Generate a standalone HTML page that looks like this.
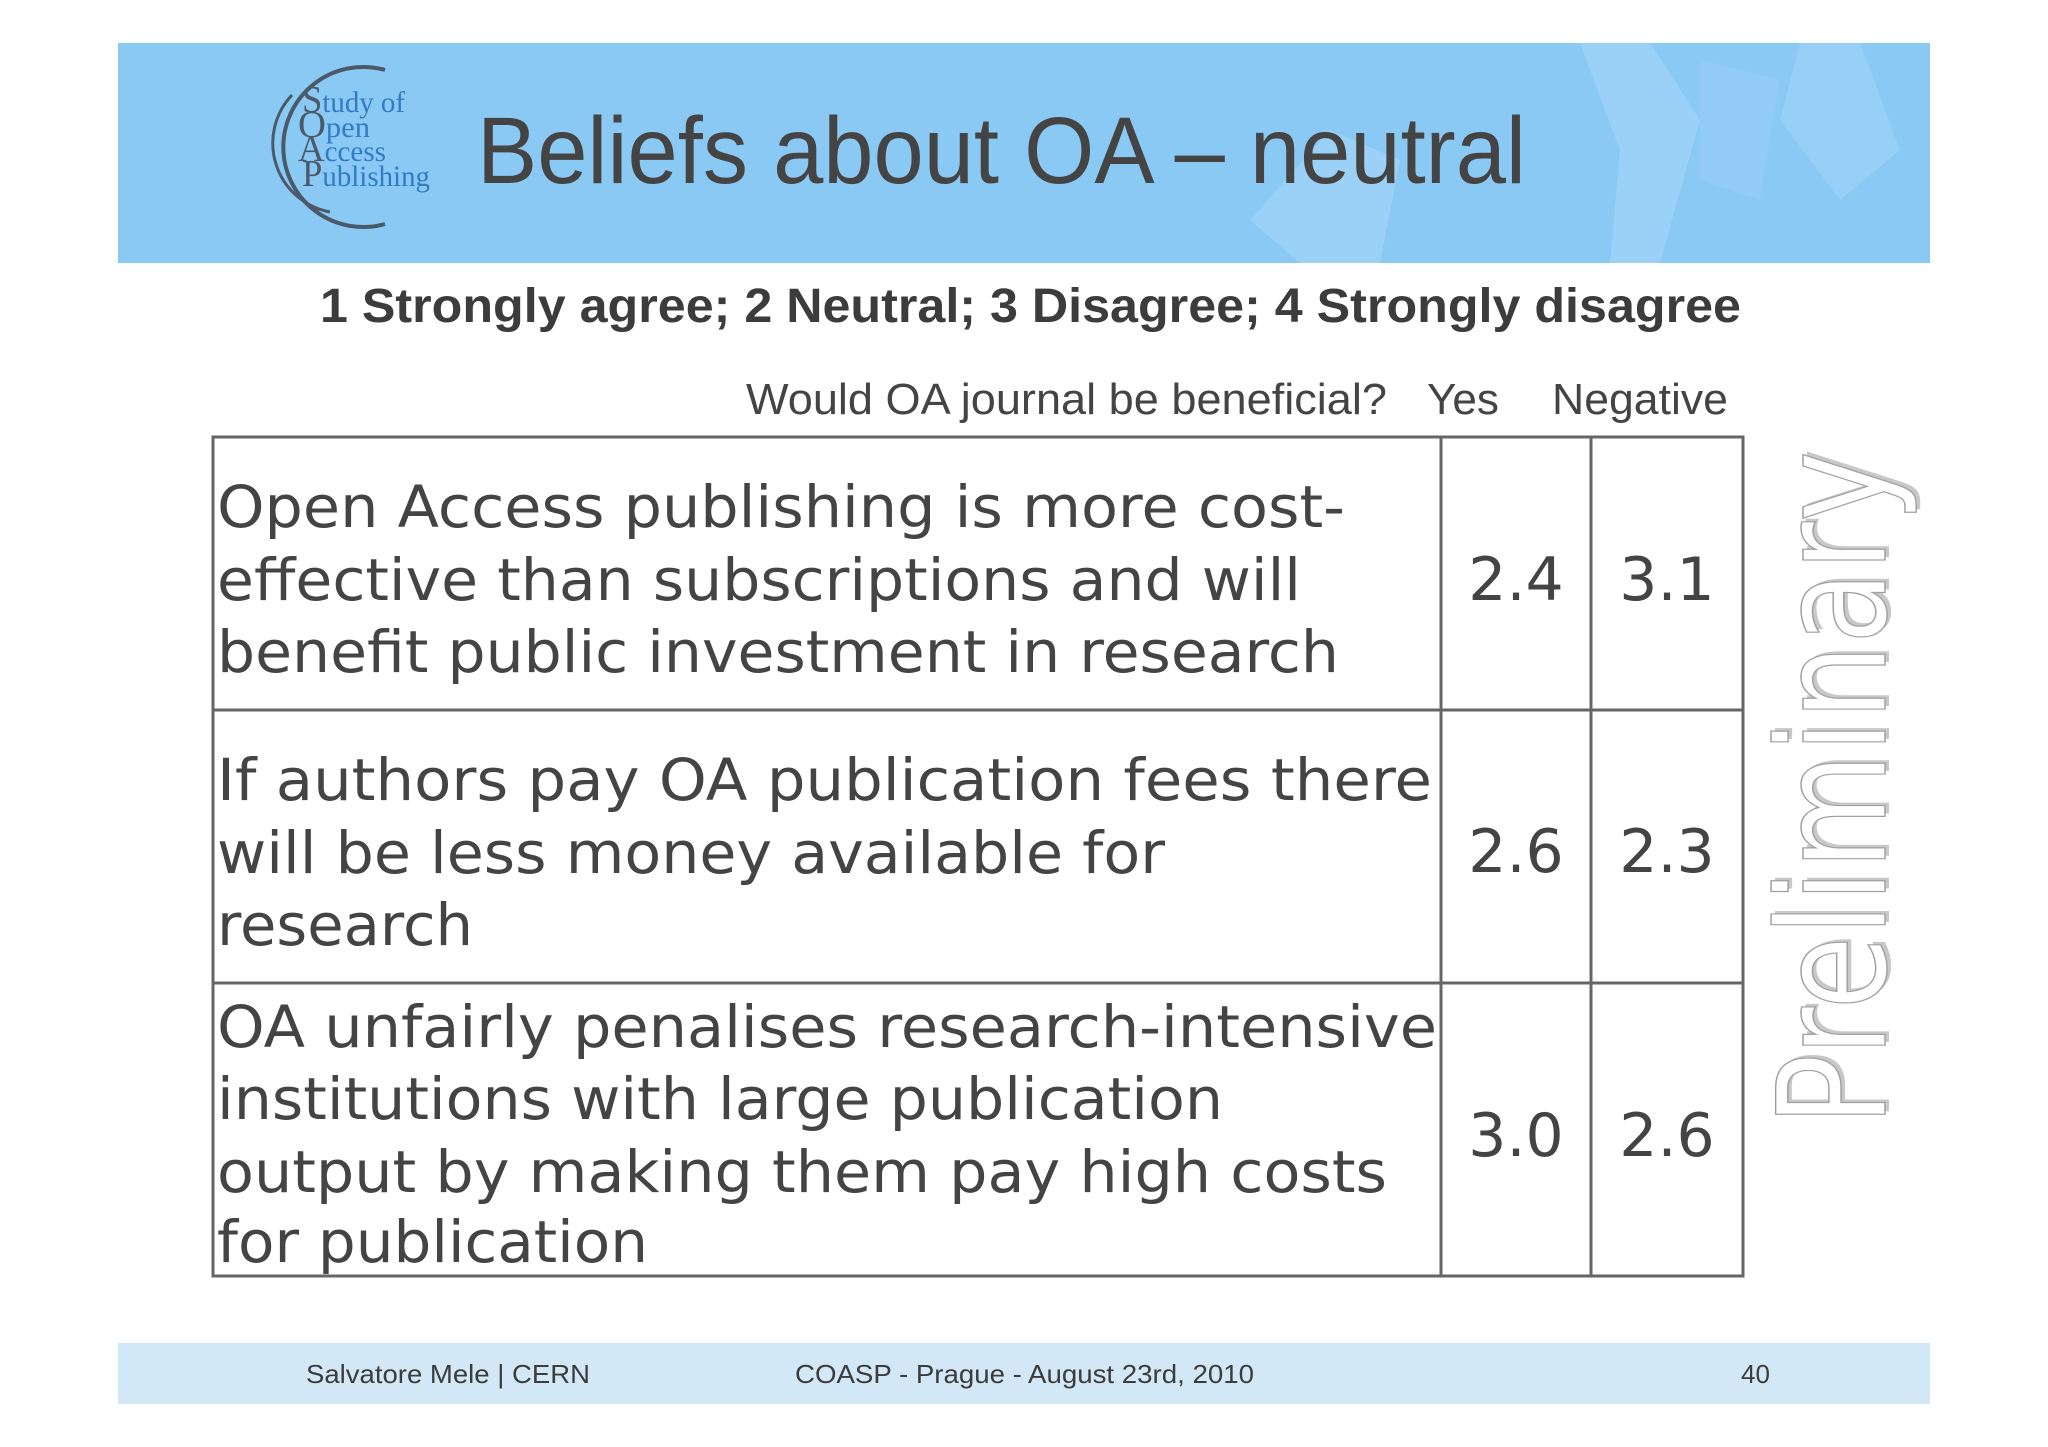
<!DOCTYPE html>
<html><head><meta charset="utf-8"><style>
html,body{margin:0;padding:0;background:#fff;}
svg{display:block;}
</style></head><body>
<svg width="2048" height="1447" viewBox="0 0 2048 1447" xmlns="http://www.w3.org/2000/svg">
  <rect width="2048" height="1447" fill="#ffffff"/>
  <!-- header -->
  <g>
    <rect x="118" y="43" width="1812" height="220" fill="#8bc9f5"/>
    <polygon points="1580,43 1650,43 1700,120 1660,263 1610,263 1620,150" fill="#a6d6f9" opacity="0.6"/>
    <polygon points="1250,220 1330,130 1400,160 1380,263 1300,263" fill="#a6d6f9" opacity="0.6"/>
    <polygon points="1800,43 1860,43 1900,150 1840,200 1780,120" fill="#a6d6f9" opacity="0.5"/>
    <polygon points="1700,60 1780,80 1760,200 1700,180" fill="#9ed2f8" opacity="0.4"/>
  </g>
  <g>
    <path d="M385,70 A80,80 0 1,0 385,224" fill="none" stroke="#4a5a6a" stroke-width="4"/>
    <path d="M292,95 A70,70 0 0,0 330,212" fill="none" stroke="#4a5a6a" stroke-width="3"/>
    <g font-family="Liberation Serif, serif" font-size="30" fill="#2f7cc4">
      <text x="302" y="112" textLength="103" lengthAdjust="spacingAndGlyphs"><tspan fill="#4a5a6a" font-size="38">S</tspan>tudy of</text>
      <text x="298" y="137" textLength="72" lengthAdjust="spacingAndGlyphs"><tspan fill="#4a5a6a" font-size="38">O</tspan>pen</text>
      <text x="298" y="161" textLength="88" lengthAdjust="spacingAndGlyphs"><tspan fill="#4a5a6a" font-size="38">A</tspan>ccess</text>
      <text x="302" y="186" textLength="128" lengthAdjust="spacingAndGlyphs"><tspan fill="#4a5a6a" font-size="38">P</tspan>ublishing</text>
    </g>
  </g>
  <text x="477" y="183" font-family="Liberation Sans, sans-serif" font-size="95" fill="#444444" textLength="1049" lengthAdjust="spacingAndGlyphs">Beliefs about OA – neutral</text>
  <text x="320" y="322" font-family="Liberation Sans, sans-serif" font-weight="bold" font-size="48" fill="#3c3c3c" textLength="1421" lengthAdjust="spacingAndGlyphs">1 Strongly agree; 2 Neutral; 3 Disagree; 4 Strongly disagree</text>
  <g font-family="Liberation Sans, sans-serif" font-size="44" fill="#444444">
    <text x="746" y="414" textLength="641" lengthAdjust="spacingAndGlyphs">Would OA journal be beneficial?</text>
    <text x="1427" y="414" textLength="72" lengthAdjust="spacingAndGlyphs">Yes</text>
    <text x="1552" y="414" textLength="176" lengthAdjust="spacingAndGlyphs">Negative</text>
  </g>
  <!-- table -->
  <g stroke="#666666" stroke-width="3" fill="none">
    <rect x="213" y="437" width="1530" height="839"/>
    <line x1="1441" y1="437" x2="1441" y2="1276"/>
    <line x1="1591" y1="437" x2="1591" y2="1276"/>
    <line x1="213" y1="710" x2="1743" y2="710"/>
    <line x1="213" y1="983" x2="1743" y2="983"/>
  </g>
  <g font-family="DejaVu Sans, Liberation Sans, sans-serif" font-size="58" fill="#444444">
    <g>
      <text x="217" y="527" textLength="1128" lengthAdjust="spacingAndGlyphs">Open Access publishing is more cost-</text>
      <text x="217" y="600" textLength="1084" lengthAdjust="spacingAndGlyphs">effective than subscriptions and will</text>
      <text x="217" y="672" textLength="1122" lengthAdjust="spacingAndGlyphs">benefit public investment in research</text>
    </g>
    <g>
      <text x="217" y="800" textLength="1215" lengthAdjust="spacingAndGlyphs">If authors pay OA publication fees there</text>
      <text x="217" y="873" textLength="948" lengthAdjust="spacingAndGlyphs">will be less money available for</text>
      <text x="217" y="945" textLength="256" lengthAdjust="spacingAndGlyphs">research</text>
    </g>
    <g>
      <text x="217" y="1047" textLength="1220" lengthAdjust="spacingAndGlyphs">OA unfairly penalises research-intensive</text>
      <text x="217" y="1119" textLength="1006" lengthAdjust="spacingAndGlyphs">institutions with large publication</text>
      <text x="217" y="1192" textLength="1170" lengthAdjust="spacingAndGlyphs">output by making them pay high costs</text>
      <text x="217" y="1262" textLength="431" lengthAdjust="spacingAndGlyphs">for publication</text>
    </g>
    <g text-anchor="middle" font-size="60">
      <text x="1516" y="600">2.4</text>
      <text x="1667" y="600">3.1</text>
      <text x="1516" y="872">2.6</text>
      <text x="1667" y="872">2.3</text>
      <text x="1516" y="1156">3.0</text>
      <text x="1667" y="1156">2.6</text>
    </g>
  </g>
  <!-- Preliminary watermark -->
  <g transform="translate(1885,1126) rotate(-90)">
    <text x="3" y="4" font-family="DejaVu Sans, sans-serif" font-size="150" fill="#c8c8c8" textLength="675" lengthAdjust="spacingAndGlyphs">Preliminary</text>
    <text x="0" y="0" font-family="DejaVu Sans, sans-serif" font-size="150" fill="#ffffff" stroke="#a0a0a0" stroke-width="1.5" textLength="675" lengthAdjust="spacingAndGlyphs">Preliminary</text>
  </g>
  <!-- footer -->
  <g>
    <rect x="118" y="1343" width="1812" height="61" fill="#d3e8f7"/>
    <g font-family="Liberation Sans, sans-serif" font-size="26" fill="#3c3c3c">
      <text x="306" y="1383" textLength="284" lengthAdjust="spacingAndGlyphs">Salvatore Mele | CERN</text>
      <text x="795" y="1383" textLength="459" lengthAdjust="spacingAndGlyphs">COASP - Prague - August 23rd, 2010</text>
      <text x="1741" y="1383">40</text>
    </g>
  </g>
</svg>
</body></html>
